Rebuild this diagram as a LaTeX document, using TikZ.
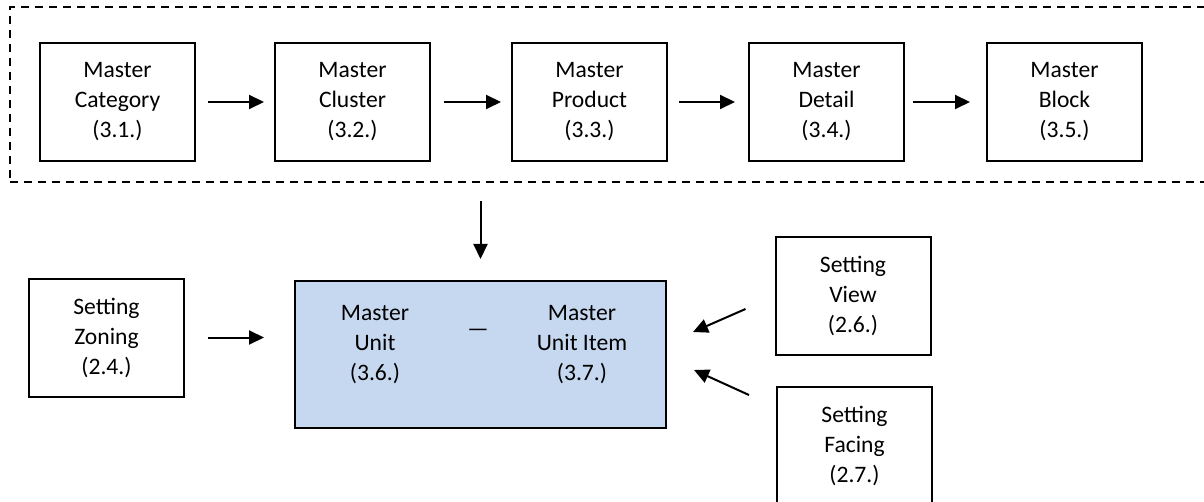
\documentclass[tikz,border=0pt]{standalone}
\usepackage{fontspec}
\setmainfont{Carlito}
\usetikzlibrary{arrows.meta,calc}

\begin{document}
\begin{tikzpicture}[x=0.5pt,y=-0.5pt,
  txt/.style={font=\fontsize{11.8}{15}\selectfont, align=center, inner sep=0pt},
  box/.style={txt, draw, line width=1pt, minimum width=77.5pt, minimum height=59pt},
  group/.style={draw, line width=1pt, dash pattern=on 4.2pt off 2.8pt,
    minimum width=605pt, minimum height=87.5pt, inner sep=0pt},
  unitbox/.style={draw, line width=1pt, fill=unitblue,
    minimum width=185.5pt, minimum height=73.5pt, inner sep=0pt},
  link/.style={line width=1pt, -{Triangle[length=7.5pt,width=7pt]}}
]
\definecolor{unitblue}{HTML}{C6D8EF}
\useasboundingbox (0,0) rectangle (1204,502);

% master data chain
\node[group] (frame) at (615,94.5) {};
\node[box] (cat)  at (117.5,102) {Master\\Category\\(3.1.)};
\node[box] (clu)  at (352.5,102) {Master\\Cluster\\(3.2.)};
\node[box] (prod) at (589.5,102) {Master\\Product\\(3.3.)};
\node[box] (det)  at (826.5,102) {Master\\Detail\\(3.4.)};
\node[box] (blk)  at (1064.5,102) {Master\\Block\\(3.5.)};

\draw[link, shorten <=6pt, shorten >=5pt] (cat.east) -- (clu.west);
\draw[link, shorten <=6.5pt, shorten >=5pt] (clu.east) -- (prod.west);
\draw[link, shorten <=5.5pt, shorten >=6.5pt] (prod.east) -- (det.west);
\draw[link, shorten <=4pt, shorten >=8pt] (det.east) -- (blk.west);

% unit and its settings
\node[unitbox] (cbox) at (480.5,354.5) {};
\node[txt] (unit) at (375,345) {Master\\Unit\\(3.6.)};
\node[txt] (item) at (582,345) {Master\\Unit Item\\(3.7.)};
\node[txt] (sep)  at (478,333) {—};

\node[box] (zoning) at (106.5,337.5) {Setting\\Zoning\\(2.4.)};
\node[box] (view)   at (853,296)     {Setting\\View\\(2.6.)};
\node[box] (facing) at (854.5,446)   {Setting\\Facing\\(2.7.)};

\draw[link, shorten <=9pt, shorten >=10.5pt] (frame.south -| cbox.north) -- (cbox.north);
\draw[link, shorten <=11.5pt, shorten >=15pt] (zoning.east) -- (zoning.east -| cbox.west);
\draw[link] ($(view.west)+(-29,13)$) -- ($(cbox.east)+(26,-22.5)$);
\draw[link] ($(facing.north west)+(-27,9)$) -- ($(cbox.east)+(27,15.5)$);
\end{tikzpicture}
\end{document}
